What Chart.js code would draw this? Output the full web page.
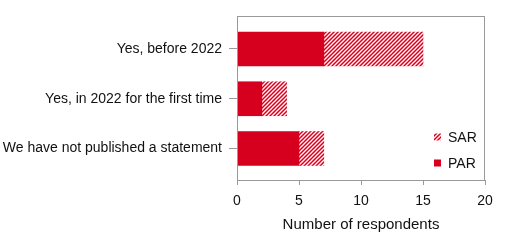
<!DOCTYPE html>
<html>
<head>
<meta charset="utf-8">
<script src="https://cdn.jsdelivr.net/npm/chart.js@4/dist/chart.umd.min.js"></script>
<style>
  html, body { margin: 0; padding: 0; background: #fff; }
  #wrap { width: 520px; height: 242px; position: relative; }
</style>
</head>
<body>
<div id="wrap"><canvas id="c"></canvas></div>
<script>
const categories = ["Yes, before 2022", "Yes, in 2022 for the first time", "We have not published a statement"];
const parValues = [7, 2, 5];
const sarValues = [8, 2, 2];
const xTicks = [0, 5, 10, 15, 20];
const seriesNames = ["PAR", "SAR"];
const xTitle = "Number of respondents";

const RED = "rgb(214,0,30)";
const GRID = "#999999";
const FONT = "'Liberation Sans', Arial, sans-serif";

function makeHatch() {
  const s = 4;
  const cv = document.createElement("canvas");
  cv.width = s; cv.height = s;
  const g = cv.getContext("2d");
  g.fillStyle = RED; g.fillRect(0, 0, s, s);
  g.strokeStyle = "#ffffff"; g.lineWidth = 1.3;
  g.beginPath();
  g.moveTo(-1, s + 1); g.lineTo(s + 1, -1);
  g.moveTo(-1, 1); g.lineTo(1, -1);
  g.moveTo(s - 1, s + 1); g.lineTo(s + 1, s - 1);
  g.stroke();
  return g.createPattern(cv, "repeat");
}
const ctx = document.getElementById("c").getContext("2d");
const hatch = makeHatch();

const boxPlugin = {
  id: "box",
  afterDraw(chart) {
    const a = chart.chartArea, c = chart.ctx;
    c.save();
    c.strokeStyle = GRID; c.lineWidth = 1;
    c.strokeRect(a.left + 0.5, a.top + 0.5, a.right - a.left - 1, a.bottom - a.top);
    const items = chart.data.datasets.slice().reverse();
    const x0 = a.right - 51, y0 = a.bottom - 43, gap = 26;
    c.font = "14px " + FONT;
    c.textBaseline = "middle";
    items.forEach((ds, i) => {
      const y = y0 + i * gap;
      c.fillStyle = ds.backgroundColor;
      c.fillRect(x0, y - 3.5, 7, 7);
      c.fillStyle = "#111";
      c.fillText(ds.label, x0 + 14, y + 1);
    });
    c.restore();
  }
};

new Chart(ctx, {
  type: "bar",
  data: {
    datasets: [
      { label: seriesNames[0], data: parValues.map((v, i) => ({ x: v, y: i })), backgroundColor: RED, borderWidth: 0, barThickness: 34 },
      { label: seriesNames[1], data: sarValues.map((v, i) => ({ x: v, y: i })), backgroundColor: hatch, borderWidth: 0, barThickness: 34 }
    ]
  },
  options: {
    indexAxis: "y",
    responsive: true,
    maintainAspectRatio: false,
    animation: false,
    layout: { padding: { left: 0, top: 16, right: 35, bottom: 0 } },
    plugins: { legend: { display: false }, tooltip: { enabled: false } },
    scales: {
      x: {
        type: "linear",
        stacked: true,
        min: 0, max: 20,
        afterBuildTicks: s => { s.ticks = xTicks.map(v => ({ value: v })); },
        afterFit: s => { s.height = 62; },
        grid: { drawOnChartArea: false, color: GRID, tickLength: 5, tickColor: GRID },
        border: { display: true, color: GRID },
        ticks: { color: "#111", font: { family: FONT, size: 14 }, padding: 8 },
        title: { display: true, text: xTitle, color: "#111", font: { family: FONT, size: 15 }, padding: { top: 0, bottom: 8 } }
      },
      y: {
        type: "linear",
        stacked: true,
        reverse: true,
        offset: false,
        min: -0.663, max: 2.633,
        afterBuildTicks: s => { s.ticks = categories.map((_, i) => ({ value: i })); },
        afterFit: s => { s.width = 237; },
        grid: { drawOnChartArea: false, offset: false, color: GRID, tickLength: 8, tickColor: GRID },
        border: { display: true, color: GRID },
        ticks: { color: "#111", font: { family: FONT, size: 14 }, padding: 7, callback: v => categories[v] }
      }
    }
  },
  plugins: [boxPlugin]
});
</script>
</body>
</html>
